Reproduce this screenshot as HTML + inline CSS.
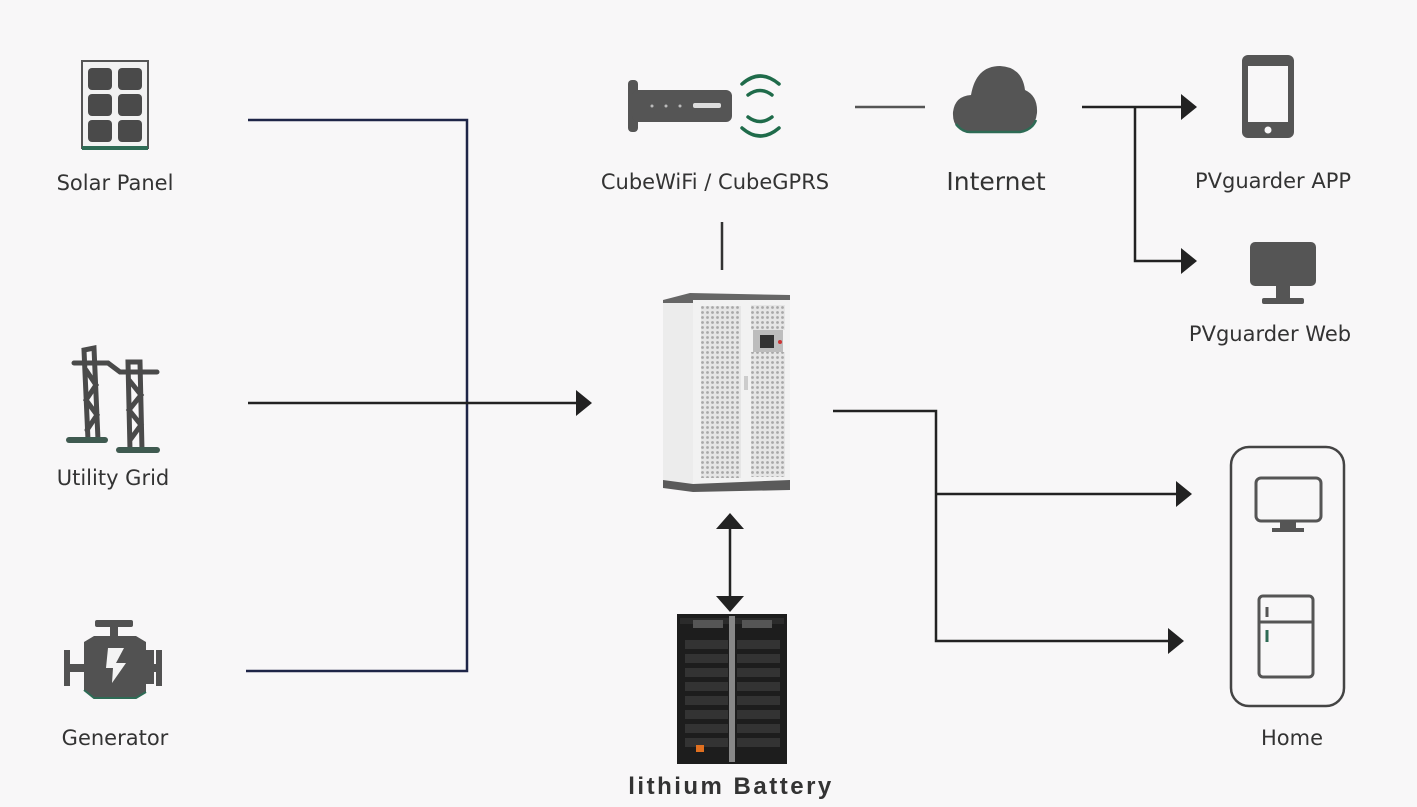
<!DOCTYPE html>
<html><head><meta charset="utf-8"><style>
html,body{margin:0;padding:0;background:#f8f7f8;}
svg{display:block}
text{font-family:"DejaVu Sans","Liberation Sans",sans-serif;fill:#333;}
</style></head><body>
<svg width="1417" height="807" viewBox="0 0 1417 807" xmlns="http://www.w3.org/2000/svg">
<defs>
<pattern id="mesh" width="5" height="5" patternUnits="userSpaceOnUse"><rect width="5" height="5" fill="#e6e6e6"/><circle cx="2.5" cy="2.5" r="1.4" fill="#a8a8a8"/></pattern>
</defs>
<rect width="1417" height="807" fill="#f8f7f8"/>

<g stroke="#1e2547" stroke-width="2.5" fill="none">
<polyline points="248,120 467,120 467,671 246,671"/>
</g>
<line x1="248" y1="403" x2="580" y2="403" stroke="#222" stroke-width="2.5"/>
<polygon points="592,403 576,390 576,416" fill="#222"/>

<line x1="722" y1="222" x2="722" y2="270" stroke="#333" stroke-width="2.5"/>
<line x1="855" y1="107" x2="925" y2="107" stroke="#555" stroke-width="2.5"/>
<g stroke="#222" stroke-width="2.5" fill="none">
<polyline points="1082,107 1185,107"/>
<polyline points="1135,107 1135,261 1185,261"/>
<polyline points="833,411 936,411 936,641 1172,641"/>
<polyline points="936,494 1180,494"/>
<line x1="730" y1="525" x2="730" y2="600"/>
</g>
<polygon points="1197,107 1181,94 1181,120" fill="#222"/>
<polygon points="1197,261 1181,248 1181,274" fill="#222"/>
<polygon points="1192,494 1176,481 1176,507" fill="#222"/>
<polygon points="1184,641 1168,628 1168,654" fill="#222"/>
<polygon points="730,513 716,529 744,529" fill="#222"/>
<polygon points="730,612 716,596 744,596" fill="#222"/>

<rect x="82" y="61" width="66" height="87" fill="#f2f2f2" stroke="#555" stroke-width="2"/>
<g fill="#4a4a4a">
<rect x="88" y="68" width="24" height="22" rx="4"/><rect x="118" y="68" width="24" height="22" rx="4"/>
<rect x="88" y="94" width="24" height="22" rx="4"/><rect x="118" y="94" width="24" height="22" rx="4"/>
<rect x="88" y="120" width="24" height="22" rx="4"/><rect x="118" y="120" width="24" height="22" rx="4"/>
</g>
<rect x="82" y="146" width="66" height="4" fill="#2e6b55"/>
<text x="115" y="190" font-size="21" text-anchor="middle">Solar Panel</text>

<g stroke="#4a4a4a" stroke-width="5" fill="none" stroke-linecap="round">
<path d="M74,363 L108,363 M88,440 L84,350 L94,348 L98,440 M86,370 L96,385 L86,400 L97,415 L87,430"/>
<path d="M108,363 L120,372 L157,372 M130,450 L128,362 L140,362 L142,450 M129,380 L141,395 L129,410 L141,425 L130,440"/>
</g>
<rect x="66" y="437" width="42" height="6" rx="3" fill="#3f5a50"/>
<rect x="116" y="447" width="44" height="6" rx="3" fill="#3f5a50"/>
<text x="113" y="485" font-size="21" text-anchor="middle">Utility Grid</text>

<g fill="#525252">
<rect x="95" y="620" width="38" height="7" rx="2"/>
<rect x="110" y="626" width="8" height="10"/>
<polygon points="84,642 94,636 136,636 146,642 146,650 154,650 154,684 146,684 146,692 136,698 94,698 84,690"/>
<rect x="64" y="650" width="6" height="36"/>
<rect x="68" y="664" width="18" height="8"/>
<rect x="156" y="650" width="6" height="36"/>
<rect x="150" y="664" width="10" height="8"/>
</g>
<polygon points="108,648 124,648 116,663 126,663 112,683 113,668 106,668" fill="#f4f4f4"/>
<path d="M84,690 L94,698 L136,698 L146,692" stroke="#2e6b55" stroke-width="2" fill="none"/>
<text x="115" y="745" font-size="21" text-anchor="middle">Generator</text>

<rect x="628" y="80" width="10" height="52" rx="4" fill="#555"/>
<rect x="632" y="90" width="100" height="32" rx="6" fill="#555"/>
<circle cx="652" cy="106" r="1.5" fill="#bbb"/><circle cx="666" cy="106" r="1.5" fill="#bbb"/><circle cx="680" cy="106" r="1.5" fill="#bbb"/>
<rect x="693" y="103" width="28" height="5" rx="2" fill="#ddd"/>
<g stroke="#1f6b4a" stroke-width="3.5" fill="none" stroke-linecap="round">
<path d="M742,84 Q760,68 779,84"/><path d="M748,95 Q760,86 772,95"/>
<path d="M742,128 Q760,144 779,128"/><path d="M748,117 Q760,126 772,117"/>
</g>
<text x="715" y="189" font-size="21" text-anchor="middle">CubeWiFi / CubeGPRS</text>

<path d="M968,132 Q952,130 953,112 Q955,96 971,95 Q976,66 1000,66 Q1022,67 1025,90 Q1038,96 1037,113 Q1035,130 1020,132 Z" fill="#555"/>
<path d="M956,124 Q962,132 970,132 L1020,132 Q1032,130 1036,120" stroke="#2e6b55" stroke-width="2.5" fill="none"/>
<text x="996" y="190" font-size="25" text-anchor="middle">Internet</text>

<rect x="1242" y="55" width="52" height="83" rx="6" fill="#555"/>
<rect x="1248" y="66" width="40" height="56" fill="#f8f7f8"/>
<circle cx="1268" cy="130" r="3.5" fill="#f8f7f8"/>
<text x="1273" y="188" font-size="21" text-anchor="middle">PVguarder APP</text>

<rect x="1250" y="242" width="66" height="44" rx="5" fill="#555"/>
<rect x="1276" y="286" width="14" height="12" fill="#555"/>
<rect x="1262" y="298" width="42" height="6" rx="2" fill="#555"/>
<text x="1270" y="341" font-size="21" text-anchor="middle">PVguarder Web</text>

<rect x="1231" y="447" width="113" height="259" rx="18" fill="none" stroke="#444" stroke-width="2.5"/>
<rect x="1256" y="478" width="65" height="43" rx="5" fill="none" stroke="#555" stroke-width="3"/>
<rect x="1280" y="521" width="16" height="8" fill="#555"/>
<rect x="1272" y="528" width="32" height="4" fill="#555"/>
<rect x="1259" y="596" width="54" height="81" rx="4" fill="none" stroke="#555" stroke-width="3"/>
<line x1="1259" y1="622" x2="1313" y2="622" stroke="#555" stroke-width="3"/>
<line x1="1267" y1="607" x2="1267" y2="617" stroke="#555" stroke-width="3"/>
<line x1="1267" y1="630" x2="1267" y2="642" stroke="#2e6b55" stroke-width="3"/>
<text x="1292" y="745" font-size="21" text-anchor="middle">Home</text>

<polygon points="663,300 690,293 790,295 790,302 663,306" fill="#666"/>
<rect x="663" y="303" width="30" height="183" fill="#ececec"/>
<rect x="693" y="300" width="97" height="186" fill="#f2f2f2"/>
<rect x="701" y="306" width="40" height="172" fill="url(#mesh)"/>
<rect x="751" y="305" width="34" height="25" fill="url(#mesh)"/>
<rect x="751" y="352" width="34" height="125" fill="url(#mesh)"/>
<rect x="753" y="330" width="30" height="22" fill="#bdbdbd"/>
<rect x="760" y="335" width="14" height="13" fill="#333"/>
<circle cx="780" cy="342" r="2" fill="#c33"/>
<rect x="744" y="376" width="4" height="14" fill="#ccc"/>
<polygon points="663,480 693,484 790,480 790,490 693,492 663,488" fill="#5a5a5a"/>

<rect x="677" y="614" width="110" height="150" fill="#1d1d1d"/>
<rect x="680" y="618" width="104" height="6" fill="#2b2b2b"/>
<rect x="693" y="620" width="30" height="8" fill="#555"/>
<rect x="742" y="620" width="30" height="8" fill="#555"/>
<g fill="#333">
<rect x="685" y="640" width="43" height="9"/><rect x="737" y="640" width="43" height="9"/>
<rect x="685" y="654" width="43" height="9"/><rect x="737" y="654" width="43" height="9"/>
<rect x="685" y="668" width="43" height="9"/><rect x="737" y="668" width="43" height="9"/>
<rect x="685" y="682" width="43" height="9"/><rect x="737" y="682" width="43" height="9"/>
<rect x="685" y="696" width="43" height="9"/><rect x="737" y="696" width="43" height="9"/>
<rect x="685" y="710" width="43" height="9"/><rect x="737" y="710" width="43" height="9"/>
<rect x="685" y="724" width="43" height="9"/><rect x="737" y="724" width="43" height="9"/>
<rect x="685" y="738" width="43" height="9"/><rect x="737" y="738" width="43" height="9"/>
</g>
<rect x="729" y="616" width="6" height="146" fill="#888"/>
<rect x="696" y="745" width="8" height="7" fill="#e07020"/>
<text x="731" y="794" font-size="24" font-weight="bold" text-anchor="middle" letter-spacing="2.5" style="font-family:'Liberation Sans',sans-serif" fill="#222">lithium Battery</text>
</svg>
</body></html>
